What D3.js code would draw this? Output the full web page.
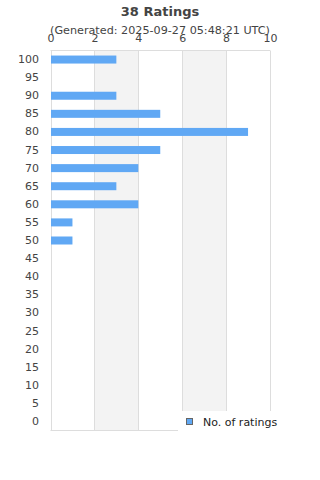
<!DOCTYPE html>
<html><head><meta charset="utf-8">
<script src="https://cdn.jsdelivr.net/npm/d3@7/dist/d3.min.js"></script>
<style>body{margin:0;background:#fff;}svg{display:block;font-family:"DejaVu Sans",sans-serif;}</style>
</head><body>
<svg id="c" width="320" height="480"></svg>
<script>
const title = "38 Ratings";
const subtitle = "(Generated: 2025-09-27 05:48:21 UTC)";
const categories = ["100","95","90","85","80","75","70","65","60","55","50","45","40","35","30","25","20","15","10","5","0"];
const ratings = [3,0,3,5,9,5,4,3,4,1,1,0,0,0,0,0,0,0,0,0,0];
const xTicks = [0,2,4,6,8,10];
const seriesName = "No. of ratings";

const svg = d3.select("#c");
const m = {l:50.5, r:270, t:50.5, b:430.5};
const x = d3.scaleLinear().domain([0,10]).range([m.l, m.r]);
const y = d3.scaleBand().domain(categories).range([m.t, m.b]);

// bands
for (let i=0;i<xTicks.length-1;i++){
  if (i%2===1) svg.append("rect").attr("x",x(xTicks[i])).attr("y",m.t).attr("width",x(xTicks[i+1])-x(xTicks[i])).attr("height",m.b-m.t).attr("fill","#f3f3f3");
}
// gridlines
svg.selectAll("line.g").data(xTicks).join("line").attr("x1",d=>Math.round(x(d))+0.5).attr("x2",d=>Math.round(x(d))+0.5)
  .attr("y1",m.t).attr("y2",m.b).attr("stroke","#ddd");
svg.append("line").attr("x1",m.l).attr("x2",m.r).attr("y1",m.t).attr("y2",m.t).attr("stroke","#ddd");
svg.append("line").attr("x1",m.l).attr("x2",m.r).attr("y1",m.b).attr("y2",m.b).attr("stroke","#ddd");

// bars
const bh = 8;
svg.selectAll("rect.bar").data(categories).join("rect").attr("class","bar")
  .attr("x",x(0)+0.5).attr("y",(d)=>y(d)+y.bandwidth()/2-bh/2)
  .attr("width",(d,i)=>Math.max(0,x(ratings[i])-x(0)-0.5)).attr("height",bh)
  .attr("fill","#60a8f4");

// top axis labels
const xa = d3.axisTop(x).tickValues(xTicks).tickSize(0).tickPadding(0);
const gx = svg.append("g").attr("transform",`translate(0,${42})`).call(xa);
gx.select(".domain").remove();
gx.selectAll("text").attr("font-size",11).attr("fill","#444").attr("font-family","DejaVu Sans, sans-serif");

// left axis labels
const ya = d3.axisLeft(y).tickSize(0).tickPadding(0);
const gy = svg.append("g").attr("transform",`translate(39,0)`).call(ya);
gy.select(".domain").remove();
gy.selectAll("text").attr("font-size",11).attr("fill","#444").attr("font-family","DejaVu Sans, sans-serif");

// title
svg.append("text").attr("x",160).attr("y",16).attr("text-anchor","middle").attr("font-size",13).attr("font-weight","bold").attr("fill","#444").text(title);
svg.append("text").attr("x",160).attr("y",33.5).attr("text-anchor","middle").attr("font-size",11.2).attr("fill","#444").text(subtitle);

// legend
svg.append("rect").attr("x",178).attr("y",411).attr("width",142).attr("height",22).attr("fill","#fff");
svg.append("rect").attr("x",186.5).attr("y",418.5).attr("width",6).attr("height",6).attr("fill","#60a8f4").attr("stroke","#666");
svg.append("text").attr("x",203).attr("y",426).attr("font-size",11).attr("fill","#222").text(seriesName);
</script>
</body></html>
